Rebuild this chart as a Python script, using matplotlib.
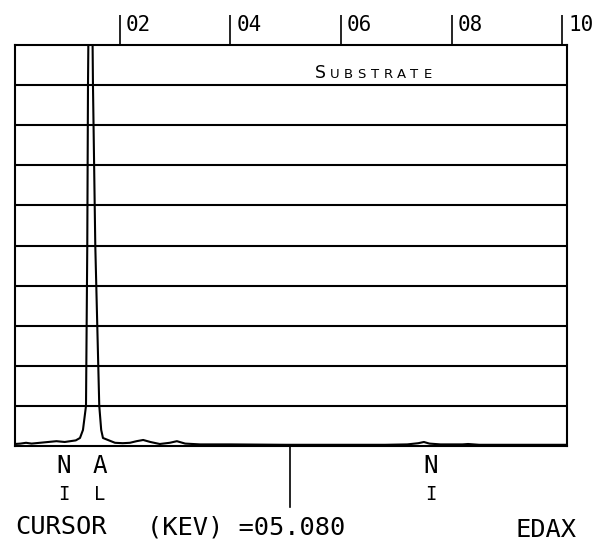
import matplotlib
matplotlib.use("Agg")
import matplotlib.pyplot as plt
from matplotlib import transforms
from matplotlib.lines import Line2D

# Spectrum trace: energy (keV) and counts in full-scale divisions (10 = top)
energy_kev = [0.10, 0.20, 0.30, 0.40, 0.55, 0.70, 0.85, 1.00, 1.10, 1.20,
              1.276, 1.33, 1.385, 1.408, 1.421, 1.465, 1.511, 1.553, 1.625,
              1.66, 1.692, 1.80, 1.91, 2.05, 2.18, 2.30, 2.42, 2.55, 2.72,
              2.90, 3.03, 3.18, 3.45, 4.0, 5.0, 6.0, 6.8, 7.2, 7.40, 7.50,
              7.60, 7.8, 8.2, 8.3, 8.5, 9.0, 9.5, 10.09]
counts = [0.05, 0.06, 0.08, 0.06, 0.08, 0.10, 0.12, 0.10, 0.12, 0.14,
          0.20, 0.40, 1.0, 5.0, 9.0, 16.0, 9.0, 5.0, 1.0,
          0.40, 0.20, 0.14, 0.08, 0.07, 0.08, 0.12, 0.15, 0.10, 0.05,
          0.08, 0.12, 0.06, 0.04, 0.04, 0.03, 0.03, 0.03, 0.04, 0.07, 0.10,
          0.06, 0.04, 0.04, 0.05, 0.03, 0.03, 0.03, 0.03]

# Top energy scale
scale_ticks = [2, 4, 6, 8, 10]
scale_labels = ["02", "04", "06", "08", "10"]

# Element markers printed under the trace (symbol, small-cap second letter)
marker_first = ["N", "A", "N"]
marker_second = ["I", "L", "I"]
marker_kev = [0.99, 1.63, 7.62]

cursor_kev = 5.08
cursor_text = "=05.080"
annotation = "SUBSTRATE"
annotation_kev = 5.53
annotation_level = 9.18

W, H = 602, 550
fig = plt.figure(figsize=(W / 100, H / 100), dpi=100)
ax = fig.add_axes([15 / W, 1 - 446 / H, 552 / W, 401 / H])

mono = "DejaVu Sans Mono"
lw = 1.5

ax.set_xlim(0.10, 10.09)
ax.set_ylim(0, 10)
for y in range(1, 10):
    ax.axhline(y, color="black", lw=lw, zorder=1)
ax.plot(energy_kev, counts, color="black", lw=lw, zorder=2)

for s in ax.spines.values():
    s.set_linewidth(lw)
ax.set_yticks([])
ax.set_xticks(scale_ticks)
ax.set_xticklabels([])
ax.tick_params(axis="x", bottom=False, top=True, direction="out",
               length=30 * 0.72, width=1.2, labeltop=False, labelbottom=False)

# Top scale numbers, set to the right of each tick
top_tr = transforms.blended_transform_factory(ax.transData, fig.transFigure)
for v, lab in zip(scale_ticks, scale_labels):
    tr = transforms.offset_copy(top_tr, fig=fig, x=6, y=0, units="dots")
    ax.text(v, 1 - 31 / H, lab, transform=tr, ha="left", va="baseline",
            fontsize=15, family=mono, clip_on=False)

# Element labels
for kev, a, b in zip(marker_kev, marker_first, marker_second):
    ax.text(kev, 1 - 473 / H, a, transform=top_tr, ha="center", va="baseline",
            fontsize=17.5, family=mono, clip_on=False)
    ax.text(kev, 1 - 500 / H, b, transform=top_tr, ha="center", va="baseline",
            fontsize=13.5, family=mono, clip_on=False)

# Cursor marker below the trace
ax.add_line(Line2D([cursor_kev, cursor_kev], [1 - 446 / H, 1 - 507 / H],
                   transform=top_tr, color="black", lw=1.2, clip_on=False))

fig.text(15 / W, 1 - 534 / H, "CURSOR", ha="left", va="baseline",
         fontsize=18.3, family=mono)
fig.text(147 / W, 1 - 534 / H, "(KEV) " + cursor_text, ha="left",
         va="baseline", fontsize=18.3, family=mono)
fig.text(577 / W, 1 - 537 / H, "EDAX", ha="right", va="baseline",
         fontsize=18.3, family=mono)

# Small-caps annotation above the top grid line
ann_tr = ax.transData
ax.text(annotation_kev, annotation_level, annotation[0], transform=ann_tr,
        ha="left", va="baseline", fontsize=12.5, family="DejaVu Sans")
for i, ch in enumerate(annotation[1:]):
    tr = transforms.offset_copy(ann_tr, fig=fig, x=20 + i * 13.2, y=0,
                                units="dots")
    ax.text(annotation_kev, annotation_level, ch, transform=tr, ha="center",
            va="baseline", fontsize=9.5, family="DejaVu Sans")

fig.savefig("out.png", dpi=100, facecolor="white")
